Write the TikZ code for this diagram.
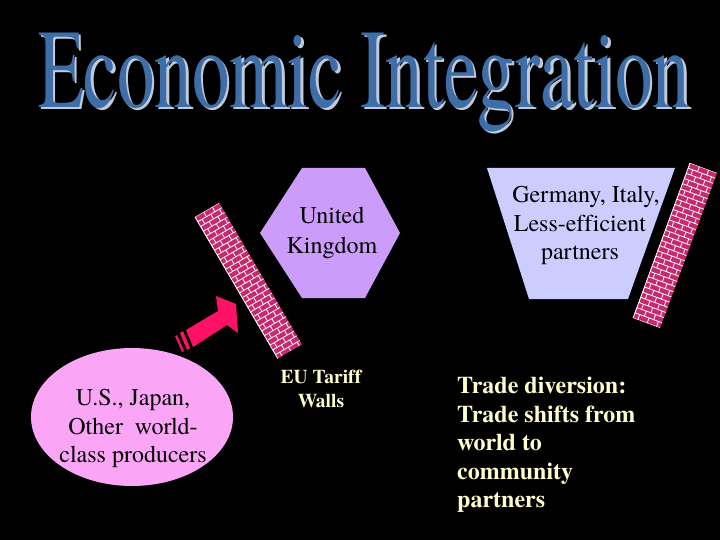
\documentclass[tikz,border=0pt]{standalone}
\usepackage{fontspec}
\setmainfont{texgyretermes}[Extension=.otf, UprightFont=*-regular, BoldFont=*-bold, ItalicFont=*-italic, BoldItalicFont=*-bolditalic, Ligatures=NoCommon]
\usetikzlibrary{shapes.geometric}
\definecolor{titleblue}{HTML}{3E6EA8}
\definecolor{titleshadow}{HTML}{C2CADA}
\definecolor{ukcol}{HTML}{CC9CFA}
\definecolor{gercol}{HTML}{CCCCFF}
\definecolor{worldcol}{HTML}{FAA5F5}
\definecolor{arrowcol}{HTML}{FF1166}
\definecolor{brickcol}{HTML}{C8286E}
\definecolor{cream}{HTML}{FFFFCC}
\newcommand\brickwall[2]{%
  \fill[brickcol] (0,0) -- (#1,0) -- (#1,#2) -- (0,#2) -- cycle;
  \begin{scope}
    \clip (0,0) -- (#1,0) -- (#1,#2) -- (0,#2) -- cycle;
    \foreach \r in {0,...,30} {
      \pgfmathsetmacro\yy{\r*5.5}
      \pgfmathsetmacro\off{mod(\r,2)*5}
      \draw[mortar] (0,\yy) -- (#1,\yy);
      \foreach \c in {0,...,3} {\draw[mortar] ({\off+\c*10},\yy) -- ++(0,5.5);}
    }
  \end{scope}
  \draw[white, line width=0.8pt] (0,0) -- (0,#2);
}
\tikzset{
  mortar/.style={white, line width=0.8pt},
  shapetext/.style={font=\fontsize{24}{28}\selectfont, text=black, inner sep=0, anchor=base},
  walltext/.style={font=\fontsize{19.5}{24}\selectfont\bfseries, text=cream, inner sep=0, anchor=base},
  notetext/.style={font=\fontsize{24}{28}\selectfont\bfseries, text=cream, inner sep=0, anchor=base west},
}
\begin{document}
\begin{tikzpicture}[x=1pt,y=-1pt]
\useasboundingbox (0,0) rectangle (720,540);
\fill[black] (0,0) rectangle (720,540);

% title
\node[inner sep=0, anchor=base west, text=titleshadow] (titleshadow) at (40.5,110)
  {\resizebox*{652pt}{99pt}{Economic Integration}};
\node[inner sep=0, anchor=base west, text=titleblue] (title) at (38,107.5)
  {\resizebox*{652pt}{99pt}{Economic Integration}};

% hexagon United Kingdom
\fill[ukcol] (260,233) -- (302,168) -- (365,168) -- (400,233) -- (365,298) -- (302,298) -- cycle;
\node[shapetext] (uk1) at (332,224) {United};
\node[shapetext] (uk2) at (332,253) {Kingdom};

% trapezoid Germany
\fill[gercol] (487,168) -- (675,168) -- (628,299) -- (529,299) -- cycle;
\node[shapetext] (ger1) at (586,203) {Germany, Italy,};
\node[shapetext] (ger2) at (580,231) {Less-efficient};
\node[shapetext] (ger3) at (580,259) {partners};

% ellipse world producers
\node[ellipse, fill=worldcol, minimum width=202, minimum height=138, inner sep=0] (world) at (132,417) {};
\node[shapetext] (w1) at (133,405) {U.S., Japan,};
\node[shapetext] (w2) at (133,434) {Other\ \ world-};
\node[shapetext] (w3) at (133,462) {class producers};

% brick walls
\begin{scope}[shift={(195,217)}, x={(0.864pt,0.504pt)}, y={(0.5046pt,-0.863pt)}]
  \brickwall{28}{164}
\end{scope}
\begin{scope}[shift={(690,163)}, x={(0.938pt,-0.347pt)}, y={(-0.345pt,-0.939pt)}]
  \brickwall{28.8}{165}
\end{scope}

% arrow
\fill[arrowcol] (186,330) -- (218,311) -- (216,296) -- (236,304) -- (238,333) -- (227,325) -- (193,347) -- cycle;
\fill[arrowcol] (180,333) -- (183,331) -- (190,348) -- (187,350) -- cycle;
\fill[arrowcol] (175,336) -- (177,335) -- (184,351) -- (182,352) -- cycle;

% labels
\node[walltext] (eu1) at (321,383) {EU Tariff};
\node[walltext] (eu2) at (321,407) {Walls};

\node[notetext] (t1) at (457,393) {Trade diversion:};
\node[notetext] (t2) at (457,422) {Trade shifts from};
\node[notetext] (t3) at (457,450) {world to};
\node[notetext] (t4) at (457,479) {community};
\node[notetext] (t5) at (457,507) {partners};
\end{tikzpicture}
\end{document}
